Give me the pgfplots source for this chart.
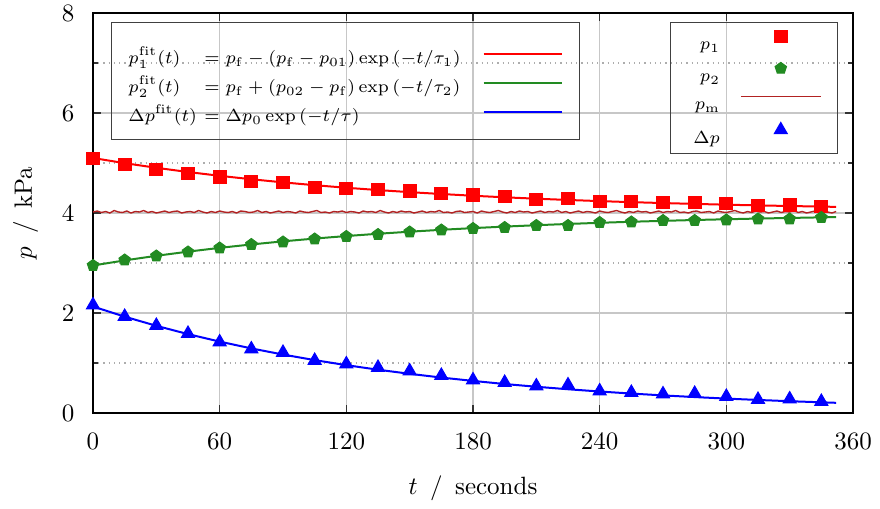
\documentclass[border=0pt]{standalone}
\usepackage{pgfplots}
\pgfplotsset{compat=1.18}
\definecolor{fgreen}{RGB}{34,139,34}
\definecolor{pmred}{RGB}{178,34,34}
\pgfplotsset{
  fitleg/.style={legend image code/.code={\draw[##1] (0pt,-0.6pt) -- (31.2pt,-0.6pt);}},
  markleg/.style={legend image code/.code={\path (0pt,0pt) (32pt,0pt); \draw[##1] plot coordinates {(16pt,2.8pt)};}},
  pmleg/.style={legend image code/.code={\draw[##1, line width=0.6pt] (0pt,2.8pt) -- (32pt,2.8pt);}},
}
\begin{document}
\begin{tikzpicture}
\begin{axis}[
  width=304pt, height=160pt, scale only axis,
  xmin=0, xmax=360, ymin=0, ymax=8,
  xtick={0,60,...,360}, ytick={0,2,...,8}, minor ytick={1,3,5,7},
  xmajorgrids, ymajorgrids, yminorgrids,
  major grid style={color=black!22, line width=0.45pt},
  minor grid style={color=black!32, line width=0.5pt, dash pattern=on 0.5pt off 1.6pt},
  tick align=inside, tick pos=both,
  major tick length=3.2pt, minor tick length=2pt,
  every tick/.style={black!80, line width=0.6pt},
  axis line style={line width=0.8pt},
  tick label style={font=\normalsize},
  yticklabel style={xshift=-3.9pt},
  xticklabel style={yshift=-4.7pt},
  xlabel={$t$\hspace{5pt}/\hspace{5pt}seconds},
  ylabel={$p$\hspace{5pt}/\hspace{5pt}kPa},
  every axis x label/.style={at={(axis description cs:0.5,0)}, anchor=base, yshift=-32.4pt},
  every axis y label/.style={at={(axis description cs:-0.0803,0.5)}, rotate=90, anchor=base},
  legend plot pos=right,
  legend style={at={(axis description cs:0.02368,0.9775)}, anchor=north west,
    fill=none, draw=black!75, line width=0.4pt,
    inner xsep=6.8pt, inner ysep=6pt, font=\scriptsize,
    nodes={inner sep=0pt, text height=10.4pt, text depth=1.2pt},
    column sep=8pt, row sep=0pt},
]
\addplot[red, line width=0.8pt, fitleg] coordinates {
(0,5.100) (15,4.997) (30,4.904) (45,4.820) (60,4.744) (75,4.675) (90,4.613) (105,4.556)
(120,4.505) (135,4.459) (150,4.417) (165,4.380) (180,4.345) (195,4.314) (210,4.286) (225,4.261)
(240,4.238) (255,4.217) (270,4.199) (285,4.182) (300,4.166) (315,4.152) (330,4.140) (345,4.128) (352,4.123)};
\addlegendentry{\makebox[133.6pt][l]{\makebox[30.4pt][l]{$p_1^{\mathrm{fit}}(t)$}$= p_{\mathrm{f}} - (p_{\mathrm{f}} - p_{01})\exp\left(-t/\tau_1\right)$}}
\addplot[fgreen, line width=0.8pt, fitleg] coordinates {
(0,2.950) (15,3.052) (30,3.144) (45,3.227) (60,3.303) (75,3.371) (90,3.433) (105,3.489)
(120,3.539) (135,3.585) (150,3.626) (165,3.664) (180,3.698) (195,3.728) (210,3.756) (225,3.781)
(240,3.804) (255,3.825) (270,3.843) (285,3.860) (300,3.875) (315,3.889) (330,3.901) (345,3.913) (352,3.918)};
\addlegendentry{\makebox[133.6pt][l]{\makebox[30.4pt][l]{$p_2^{\mathrm{fit}}(t)$}$= p_{\mathrm{f}} + (p_{02} - p_{\mathrm{f}})\exp\left(-t/\tau_2\right)$}}
\addplot[blue, line width=0.8pt, fitleg] coordinates {
(0,2.130) (15,1.927) (30,1.744) (45,1.578) (60,1.428) (75,1.292) (90,1.169) (105,1.058)
(120,0.957) (135,0.866) (150,0.784) (165,0.709) (180,0.642) (195,0.580) (210,0.525) (225,0.475)
(240,0.430) (255,0.389) (270,0.352) (285,0.319) (300,0.288) (315,0.261) (330,0.236) (345,0.214) (352,0.204)};
\addlegendentry{\makebox[133.6pt][l]{\makebox[30.4pt][l]{$\Delta p^{\mathrm{fit}}(t)$}$= \Delta p_0\exp\left(-t/\tau\right)$}}
\end{axis}
\begin{axis}[
  width=304pt, height=160pt, scale only axis,
  xmin=0, xmax=360, ymin=0, ymax=8, hide axis,
  legend plot pos=right,
  legend style={at={(axis description cs:0.9803,0.9775)}, anchor=north east,
    fill=none, draw=black!75, line width=0.4pt,
    inner xsep=6.4pt, inner ysep=3pt, font=\scriptsize,
    nodes={inner sep=0pt, text height=6.2pt, text depth=1pt},
    column sep=8pt, row sep=4pt},
]
\addplot[pmred, line width=0.55pt, pmleg, forget plot] coordinates {
(0,4.02) (2,4.04) (4,4.01) (6,4.03) (8,4.00) (10,4.05) (12,4.02) (14,4.01) (16,4.04) (18,4.00)
(20,4.03) (22,4.02) (24,4.05) (26,4.01) (28,4.03) (30,4.00) (32,4.02) (34,4.04) (36,4.01) (38,4.03)
(40,4.04) (42,4.00) (44,4.02) (46,4.03) (48,4.01) (50,4.05) (52,4.02) (54,4.00) (56,4.03) (58,4.01)
(60,4.04) (62,4.02) (64,4.01) (66,4.03) (68,4.00) (70,4.04) (72,4.03) (74,4.01) (76,4.02) (78,4.05)
(80,4.01) (82,4.03) (84,4.00) (86,4.02) (88,4.04) (90,4.01) (92,4.03) (94,4.02) (96,4.00) (98,4.04)
(100,4.02) (102,4.01) (104,4.03) (106,4.05) (108,4.01) (110,4.02) (112,4.00) (114,4.03) (116,4.02) (118,4.04)
(120,4.01) (122,4.03) (124,4.02) (126,4.00) (128,4.04) (130,4.02) (132,4.03) (134,4.01) (136,4.05) (138,4.02)
(140,4.00) (142,4.03) (144,4.01) (146,4.04) (148,4.02) (150,4.03) (152,4.00) (154,4.02) (156,4.04) (158,4.01)
(160,4.03) (162,4.02) (164,4.05) (166,4.01) (168,4.02) (170,4.00) (172,4.03) (174,4.04) (176,4.01) (178,4.02)
(180,4.03) (182,4.00) (184,4.04) (186,4.02) (188,4.01) (190,4.03) (192,4.05) (194,4.02) (196,4.00) (198,4.03)
(200,4.01) (202,4.04) (204,4.02) (206,4.03) (208,4.00) (210,4.02) (212,4.04) (214,4.01) (216,4.03) (218,4.02)
(220,4.05) (222,4.01) (224,4.03) (226,4.00) (228,4.02) (230,4.04) (232,4.01) (234,4.03) (236,4.02) (238,4.00)
(240,4.04) (242,4.02) (244,4.01) (246,4.03) (248,4.05) (250,4.02) (252,4.00) (254,4.03) (256,4.01) (258,4.04)
(260,4.02) (262,4.03) (264,4.00) (266,4.02) (268,4.04) (270,4.01) (272,4.03) (274,4.02) (276,4.05) (278,4.01)
(280,4.02) (282,4.00) (284,4.03) (286,4.04) (288,4.01) (290,4.02) (292,4.03) (294,4.00) (296,4.04) (298,4.02)
(300,4.01) (302,4.03) (304,4.05) (306,4.02) (308,4.00) (310,4.03) (312,4.01) (314,4.04) (316,4.02) (318,4.03)
(320,4.00) (322,4.02) (324,4.04) (326,4.01) (328,4.03) (330,4.02) (332,4.05) (334,4.01) (336,4.03) (338,4.00)
(340,4.02) (342,4.04) (344,4.01) (346,4.03) (348,4.02) (350,4.00) (352,4.03)};
\addplot[red, only marks, mark=square*, mark size=2.55pt, markleg] coordinates {
(0,5.09) (15,4.97) (30,4.87) (45,4.79) (60,4.72) (75,4.63) (90,4.61) (105,4.51)
(120,4.49) (135,4.47) (150,4.44) (165,4.39) (180,4.36) (195,4.33) (210,4.27) (225,4.29)
(240,4.23) (255,4.23) (270,4.21) (285,4.21) (300,4.19) (315,4.15) (330,4.16) (345,4.13)};
\addlegendentry{\makebox[13.6pt][r]{$p_1$}}
\addplot[fgreen, only marks, mark=pentagon*, mark size=2.4pt, markleg] coordinates {
(0,2.95) (15,3.06) (30,3.14) (45,3.22) (60,3.30) (75,3.37) (90,3.42) (105,3.48)
(120,3.53) (135,3.57) (150,3.62) (165,3.66) (180,3.69) (195,3.71) (210,3.75) (225,3.75)
(240,3.81) (255,3.82) (270,3.85) (285,3.85) (300,3.86) (315,3.88) (330,3.88) (345,3.91)};
\addlegendentry{\makebox[13.6pt][r]{$p_2$}}
\addlegendimage{pmred, line width=0.55pt, pmleg}
\addlegendentry{\makebox[13.6pt][r]{$p_{\mathrm{m}}$}}
\addplot[blue, only marks, mark=triangle*, mark size=3pt, markleg] coordinates {
(0,2.16) (15,1.93) (30,1.75) (45,1.59) (60,1.42) (75,1.28) (90,1.21) (105,1.05)
(120,0.98) (135,0.91) (150,0.84) (165,0.75) (180,0.66) (195,0.61) (210,0.54) (225,0.56)
(240,0.44) (255,0.41) (270,0.38) (285,0.39) (300,0.33) (315,0.27) (330,0.28) (345,0.23)};
\addlegendentry{\makebox[13.6pt][r]{$\Delta p$}}
\end{axis}
\pgfresetboundingbox
\path ([shift={(-37.2pt,-38pt)}]current axis.south west) rectangle ([shift={(10.8pt,5.2pt)}]current axis.north east);
\end{tikzpicture}
\end{document}
